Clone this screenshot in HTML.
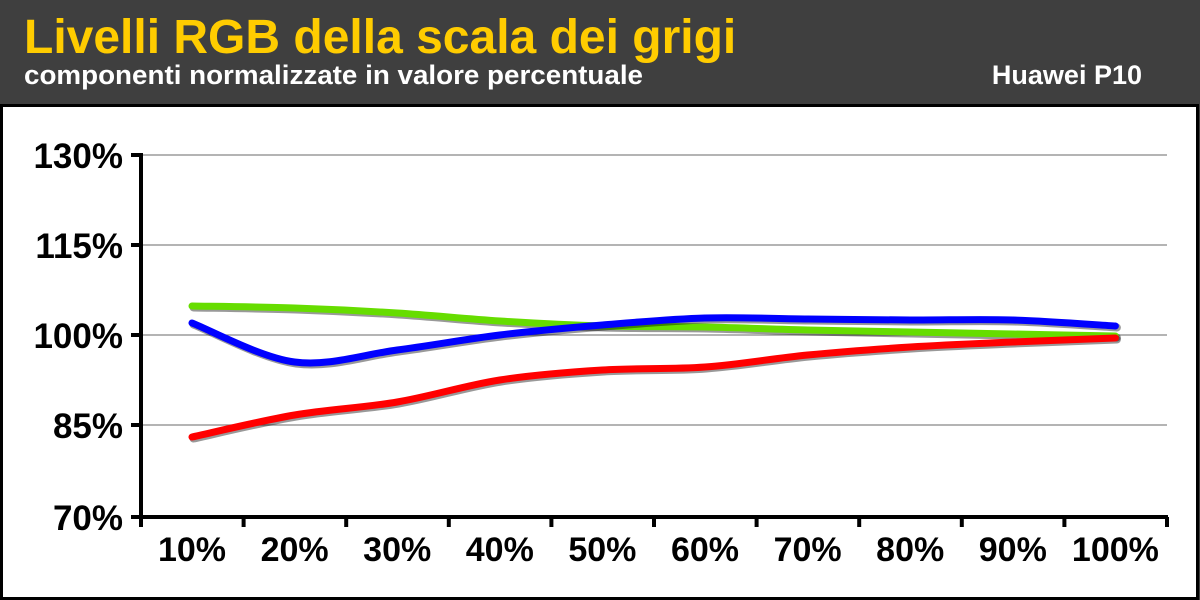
<!DOCTYPE html>
<html><head><meta charset="utf-8"><style>
html,body{margin:0;padding:0;width:1200px;height:600px;overflow:hidden;background:#fff;font-family:"Liberation Sans",Arial,sans-serif}
</style></head><body>
<svg id="s" width="1200" height="600" xmlns="http://www.w3.org/2000/svg" font-family="Liberation Sans, Arial, sans-serif">
<rect x="0" y="0" width="1200" height="600" fill="#3f3f3f"/>
<rect x="1.5" y="105.5" width="1196" height="493" fill="#fff" stroke="#000" stroke-width="3"/>
<text x="24" y="53" font-size="48" font-weight="bold" fill="#ffcc00">Livelli RGB della scala dei grigi</text>
<text x="24" y="84" font-size="27" font-weight="bold" fill="#fff" textLength="619" lengthAdjust="spacingAndGlyphs">componenti normalizzate in valore percentuale</text>
<text x="1142" y="84" font-size="27" font-weight="bold" fill="#fff" text-anchor="end">Huawei P10</text>
<g stroke="#888" stroke-width="1.2">
<line x1="141" y1="155" x2="1167" y2="155"/><line x1="141" y1="245" x2="1167" y2="245"/>
<line x1="141" y1="335" x2="1167" y2="335"/><line x1="141" y1="425" x2="1167" y2="425"/>
</g>
<g id="ax" stroke="#000" stroke-width="4" fill="none">
<line x1="141" y1="153" x2="141" y2="519"/><line x1="139" y1="517" x2="1168" y2="517"/>
</g>
<g font-size="35" font-weight="bold" text-anchor="end" fill="#000">
<text x="123" y="168">130%</text><text x="123" y="258">115%</text><text x="123" y="348">100%</text><text x="123" y="438">85%</text><text x="123" y="530">70%</text>
</g>
<g id="xl" font-size="34" font-weight="bold" text-anchor="middle" fill="#000"></g>
<g id="lines" fill="none" stroke-width="7" stroke-linecap="round"></g>
</svg>
<script>
var ns="http://www.w3.org/2000/svg",s=document.getElementById('s');
var ax=document.getElementById('ax'),xl=document.getElementById('xl'),L=document.getElementById('lines');
function el(t,a,p){var e=document.createElementNS(ns,t);for(var k in a)e.setAttribute(k,a[k]);p.appendChild(e);return e;}
[155,245,335,425,517].forEach(function(y){el('line',{x1:131,y1:y,x2:141,y2:y},ax);});
var xs=[];for(var k=0;k<=10;k++){var x=141+k*102.6;el('line',{x1:x,y1:517,x2:x,y2:527},ax);}
for(var k=0;k<10;k++){var cx=192+k*102.6;xs.push(cx);var t=el('text',{x:cx,y:561},xl);t.textContent=((k+1)*10)+'%';}
function path(ys){var p=xs.map(function(x,i){return [x,ys[i]];});var d='M'+p[0][0]+','+p[0][1];
for(var i=0;i<p.length-1;i++){var p0=p[Math.max(0,i-1)],p1=p[i],p2=p[i+1],p3=p[Math.min(p.length-1,i+2)];
d+=' C'+(p1[0]+(p2[0]-p0[0])/6)+','+(p1[1]+(p2[1]-p0[1])/6)+' '+(p2[0]-(p3[0]-p1[0])/6)+','+(p2[1]-(p3[1]-p1[1])/6)+' '+p2[0]+','+p2[1];}return d;}
var series=[
["#66dd00",[306,308,313,321,326,327,330,332,334,336]],
["#0000ff",[323,362,350,335,325,318,319,320,320,326]],
["#ff0000",[437,415,402,380,370,367,355,347,342,338]]];
series.forEach(function(sr){var d=path(sr[1]);
el('path',{d:d,stroke:'rgba(0,0,0,0.4)','stroke-width':8,transform:'translate(1.5,1.5)'},L);
el('path',{d:d,stroke:sr[0]},L);});
</script>
</body></html>
